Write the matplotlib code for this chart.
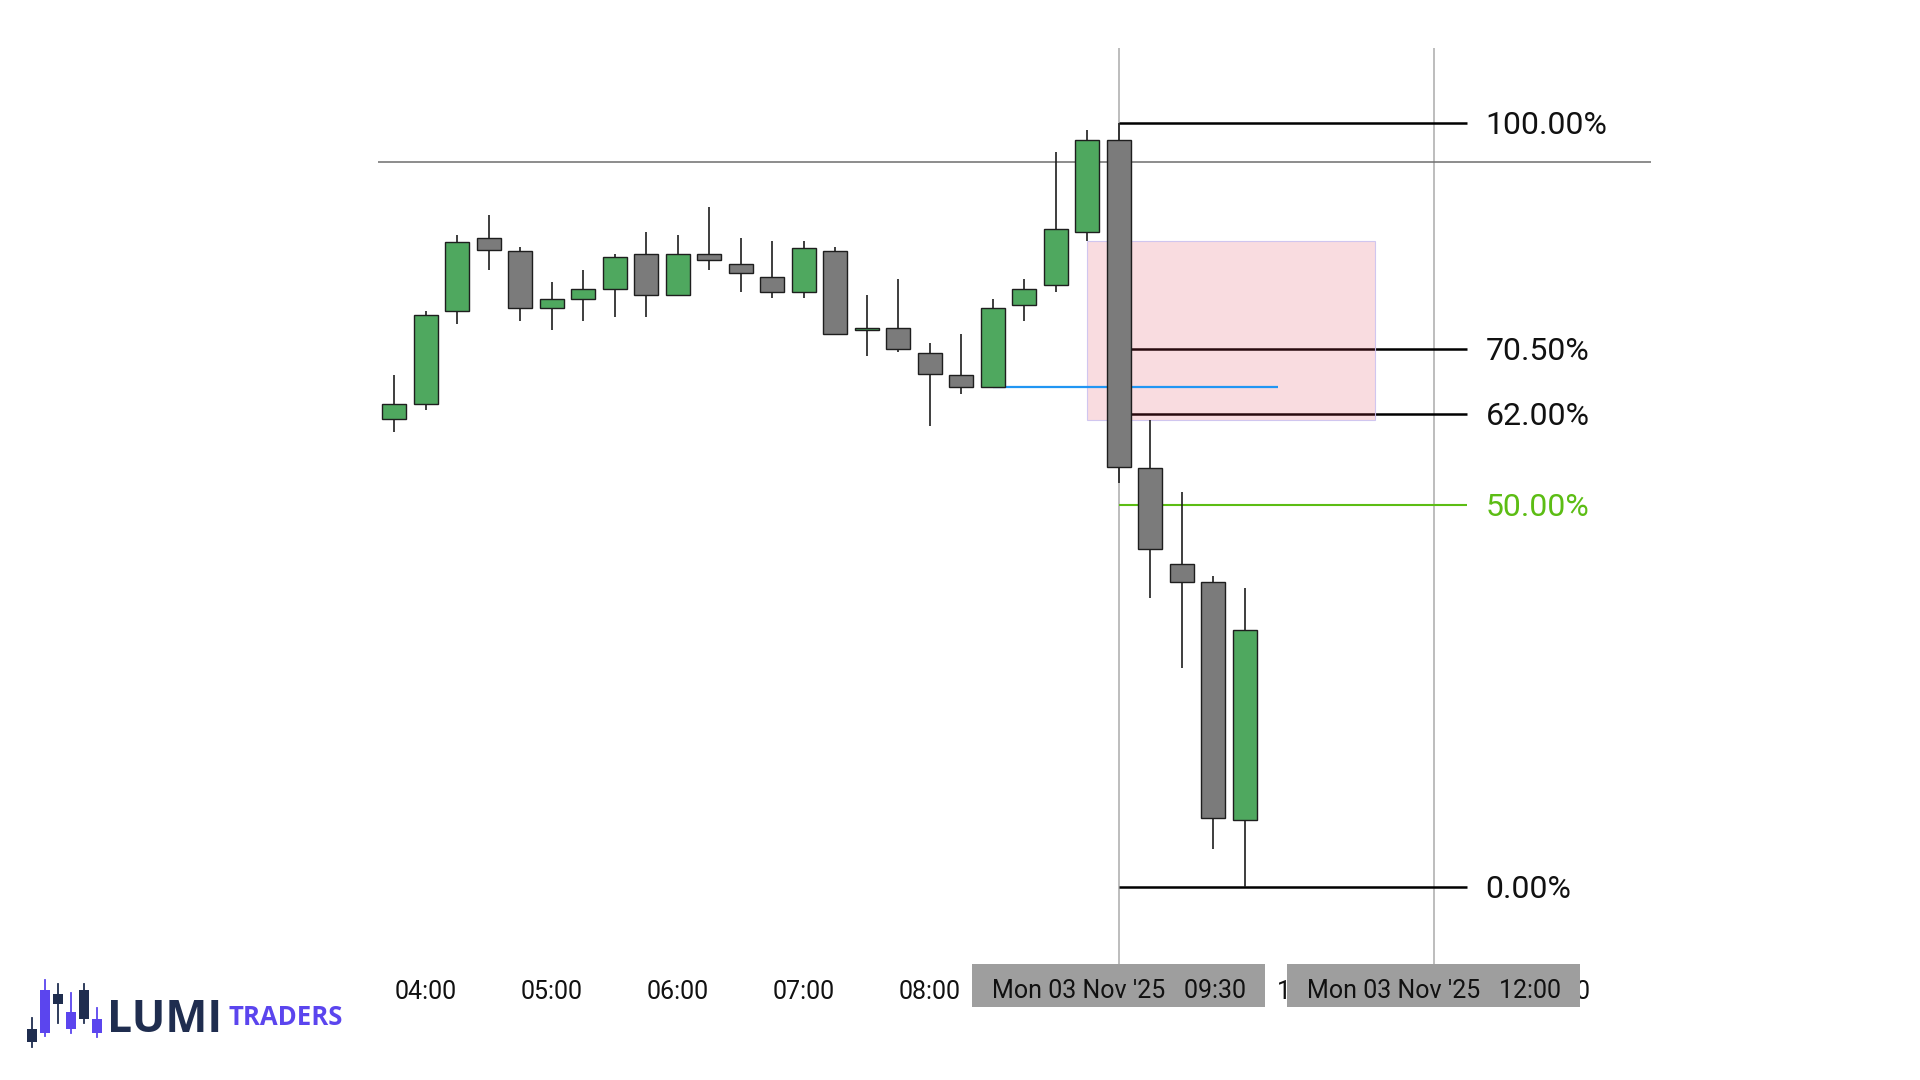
import matplotlib
matplotlib.use("Agg")
import matplotlib.pyplot as plt
from matplotlib.patches import Rectangle
from matplotlib.transforms import offset_copy, blended_transform_factory

plt.rcParams['font.family'] = ['Roboto', 'DejaVu Sans']

# ---------------- data ----------------
candle_times = ["03:45", "04:00", "04:15", "04:30", "04:45", "05:00", "05:15",
                "05:30", "05:45", "06:00", "06:15", "06:30", "06:45", "07:00",
                "07:15", "07:30", "07:45", "08:00", "08:15", "08:30", "08:45",
                "09:00", "09:15", "09:30", "09:45", "10:00", "10:15", "10:30"]
opens  = [25946.8, 25948.3, 25957.6, 25964.9, 25963.6, 25957.9, 25958.8,
          25959.8, 25963.3, 25959.2, 25963.3, 25962.3, 25961.0, 25959.5,
          25963.6, 25955.7, 25955.9, 25953.4, 25951.2, 25950.0, 25958.2,
          25960.2, 25965.5, 25974.7, 25941.9, 25932.3, 25930.5, 25906.7]
highs  = [25951.2, 25957.6, 25965.2, 25967.2, 25964.0, 25960.5, 25961.7,
          25963.3, 25965.5, 25965.2, 25968.0, 25964.9, 25964.6, 25964.6,
          25964.0, 25959.2, 25960.8, 25954.4, 25955.3, 25958.8, 25960.8,
          25973.5, 25975.7, 25976.4, 25946.7, 25939.5, 25931.1, 25929.9]
lows   = [25945.5, 25947.7, 25956.3, 25961.7, 25956.6, 25955.7, 25956.6,
          25957.0, 25957.0, 25959.2, 25961.7, 25959.5, 25958.9, 25958.9,
          25955.3, 25953.1, 25953.5, 25946.1, 25949.3, 25950.0, 25956.6,
          25959.5, 25964.6, 25940.4, 25928.9, 25921.9, 25903.8, 25900.0]
closes = [25948.3, 25957.2, 25964.5, 25963.7, 25957.9, 25958.8, 25959.8,
          25963.0, 25959.2, 25963.3, 25962.7, 25961.4, 25959.5, 25963.9,
          25955.3, 25955.9, 25953.8, 25951.3, 25950.0, 25957.9, 25959.8,
          25965.8, 25974.7, 25942.0, 25933.8, 25930.5, 25906.9, 25925.7]

tick_labels = ["04:00", "05:00", "06:00", "07:00", "08:00", "09:00",
               "10:00", "11:00", "12:00", "13:00"]

fib_high = 25976.4
fib_low = 25900.0
fib_levels = [1.0, 0.705, 0.62, 0.5, 0.0]
fib_labels = ["100.00%", "70.50%", "62.00%", "50.00%", "0.00%"]
fib_start = "09:30"
fib_end = "12:16"

marker_times = ["09:30", "12:00"]
marker_texts = ["Mon 03 Nov '25   09:30", "Mon 03 Nov '25   12:00"]

level_price = 25972.5          # grey horizontal line
blue_price = 25950.0           # blue ray
blue_start, blue_end = "08:30", "10:46"
fvg_top, fvg_bottom = 25964.6, 25946.7
fvg_start, fvg_end = "09:15", "11:32"

# logo candles (pixel drawing, decorative)
logo_x = [31.7, 45, 58, 71, 84, 97]
logo_wick_top = [1018.3, 980, 984, 993.3, 984, 1008.3]
logo_wick_bot = [1047.3, 1036, 1023.3, 1032.7, 1022.7, 1037.3]
logo_body_top = [1029, 990, 994.3, 1011.7, 990, 1019.3]
logo_body_bot = [1042.3, 1032.7, 1004.3, 1029, 1019.3, 1032.7]
logo_cols = ["navy", "purple", "navy", "purple", "navy", "purple"]


def hrs(s):
    h, m = s.split(":")
    return int(h) + int(m) / 60.0


# ---------------- figure ----------------
W, H = 1920, 1080
fig = plt.figure(figsize=(W / 100, H / 100), dpi=100)
fig.patch.set_facecolor("white")

ax_l, ax_r, ax_t, ax_b = 378, 1651, 48, 964
ax = fig.add_axes([ax_l / W, (H - ax_b) / H, (ax_r - ax_l) / W, (ax_b - ax_t) / H])
ax.set_xlim(3.6206, 13.724)
ax.set_ylim(25892.33, 25983.93)
ax.axis("off")

xs = [hrs(t) for t in candle_times]

GREEN = "#4fa85f"
GREY = "#7b7b7b"
EDGE = "#1e1e1e"

# vertical markers
for t in marker_times:
    ax.axvline(hrs(t), color="#ababab", lw=1.1, zorder=1)

# grey horizontal level
ax.axhline(level_price, color="#6e6e6e", lw=1.1, zorder=1)

# fib lines
x0f, x1f = hrs(fib_start), hrs(fib_end)
lab_tr = offset_copy(ax.transData, fig=fig, x=18, y=-11, units="dots")
for lvl, lab in zip(fib_levels, fib_labels):
    p = fib_low + lvl * (fib_high - fib_low)
    col = "#5cbd14" if lvl == 0.5 else "#000000"
    lw = 1.5 if lvl == 0.5 else 1.8
    ax.plot([x0f, x1f], [p, p], color=col, lw=lw, solid_capstyle="butt", zorder=2)
    ax.text(x1f, p, lab, transform=lab_tr, ha="left", va="baseline",
            fontsize=23, color=("#5cbd14" if lvl == 0.5 else "#111111"),
            clip_on=False)

# FVG box
ax.add_patch(Rectangle((hrs(fvg_start), fvg_bottom), hrs(fvg_end) - hrs(fvg_start),
                       fvg_top - fvg_bottom, facecolor=(0.89, 0.24, 0.33, 0.18),
                       edgecolor=(0.80, 0.76, 0.94, 0.9), lw=0.8, zorder=3))

# blue line
ax.plot([hrs(blue_start), hrs(blue_end)], [blue_price, blue_price],
        color="#2196f3", lw=1.6, solid_capstyle="butt", zorder=3.5)

# candles
bw = 0.193
for x, o, h, l, c in zip(xs, opens, highs, lows, closes):
    col = GREEN if c >= o else GREY
    ax.plot([x, x], [l, h], color=EDGE, lw=1.2, zorder=4, solid_capstyle="butt")
    ax.add_patch(Rectangle((x - bw / 2, min(o, c)), bw, abs(c - o),
                           facecolor=col, edgecolor=EDGE, lw=1.0, zorder=5))

# time axis labels
blend = blended_transform_factory(ax.transData, ax.transAxes)
tick_tr = offset_copy(blend, fig=fig, y=-35.3, units="dots")
for lab in tick_labels:
    ax.text(hrs(lab), 0, lab, transform=tick_tr, ha="center", va="baseline",
            fontsize=18, color="#111111", zorder=2, clip_on=False)

# marker date boxes
box_w = 2.323
box_h = 43.4 / (ax_b - ax_t)
box_tr = offset_copy(blend, fig=fig, y=-33.7, units="dots")
for t, txt in zip(marker_times, marker_texts):
    ax.add_patch(Rectangle((hrs(t) - box_w / 2, -box_h), box_w, box_h,
                           transform=blend, facecolor="#9e9e9e", edgecolor="none",
                           zorder=10, clip_on=False))
    ax.text(hrs(t), 0, txt, transform=box_tr, ha="center", va="baseline",
            fontsize=18, color="#111111", zorder=11, clip_on=False)

# ---------------- logo ----------------
lax = fig.add_axes([0, 0, 1, 1], zorder=-1)
lax.set_xlim(0, W)
lax.set_ylim(H, 0)
lax.axis("off")
lax.patch.set_visible(False)
cmap = {"navy": "#1f2d4f", "purple": "#5b45ee"}
for x, wt, wb, bt, bb, c in zip(logo_x, logo_wick_top, logo_wick_bot,
                                logo_body_top, logo_body_bot, logo_cols):
    lax.plot([x, x], [wt, wb], color=cmap[c], lw=1.3)
    lax.add_patch(Rectangle((x - 5, bt), 10, bb - bt, facecolor=cmap[c], edgecolor="none"))
lax.text(107.3, 1031.7, "LUMI", fontsize=32, fontweight="bold", color="#1f2d4f",
         family=["Open Sans", "DejaVu Sans"], va="baseline", ha="left")
lax.text(228.7, 1025.3, "TRADERS", fontsize=18.5, fontweight="bold", color="#5b45ee",
         family=["Open Sans", "DejaVu Sans"], va="baseline", ha="left")

fig.savefig("out.png", dpi=100, facecolor="white")
